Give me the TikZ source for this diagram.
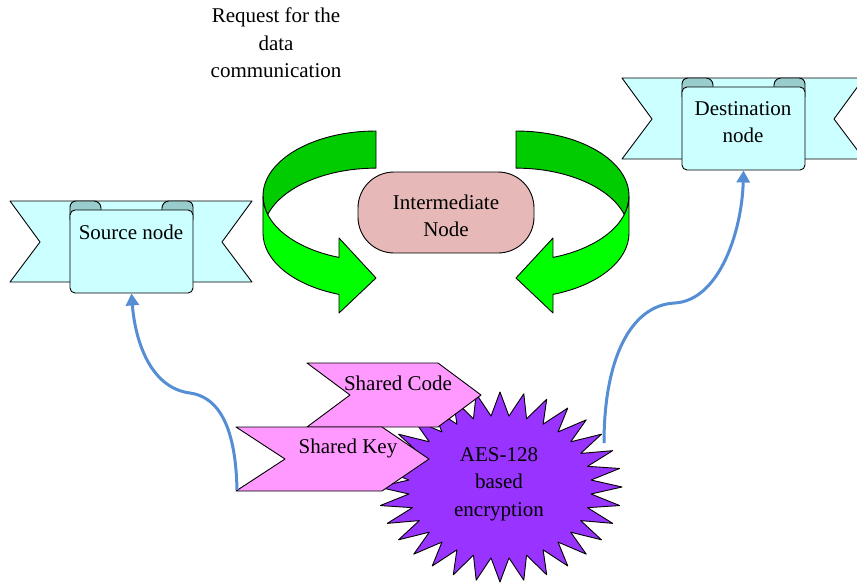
\documentclass[tikz,border=0pt]{standalone}
\usepackage{fontspec}
\setmainfont{Liberation Serif}
\usetikzlibrary{arrows.meta,calc}
\definecolor{ribbonc}{RGB}{204,255,255}
\definecolor{curlc}{RGB}{153,204,204}
\definecolor{gdark}{RGB}{0,204,0}
\definecolor{glight}{RGB}{0,255,0}
\definecolor{interc}{RGB}{230,185,184}
\definecolor{pinkc}{RGB}{255,153,255}
\definecolor{starc}{RGB}{153,51,255}
\definecolor{linkc}{RGB}{85,142,213}
\tikzset{
  outline/.style={draw=black, line width=0.9pt, line join=round},
  txt/.style={font=\fontsize{21}{27.5}\selectfont, align=center, inner sep=0pt, text=black},
  link/.style={draw=linkc, line width=3pt, -{Triangle[width=13pt,length=12pt]}},
  panel/.style={outline, fill=ribbonc, rounded corners=5, minimum width=123, minimum height=83, inner sep=0pt},
}
\newcommand\myribbonback[2]{%
  \begin{scope}[shift={(#1,#2)}]
    \path[outline, fill=ribbonc] (10,201) -- (252,201) -- (222,242) -- (252,282) -- (10,282) -- (40,242) -- cycle;
    \path[outline, fill=curlc] (70,220) -- (70,207) arc[start angle=180,end angle=270,radius=6] -- (94,201) arc[start angle=270,end angle=360,radius=7] -- (101,220) -- cycle;
    \path[outline, fill=curlc] (162,220) -- (162,208) arc[start angle=180,end angle=270,radius=7] -- (187,201) arc[start angle=270,end angle=360,radius=6] -- (193,220) -- cycle;
  \end{scope}}
\newcommand\greenarrow{%
  \path[outline, fill=gdark] (376,131) arc[start angle=-90,end angle=-180,x radius=113,y radius=65]
    arc[start angle=180,end angle=163.4,x radius=113,y radius=65]
    arc[start angle=-163.4,end angle=-90,x radius=113,y radius=65] -- cycle;
  \path[outline, fill=glight] (263,196) arc[start angle=180,end angle=109.1,x radius=113,y radius=65]
    -- (339,238) -- (376,278) -- (339,313) -- (339,294.4)
    arc[start angle=109.1,end angle=180,x radius=113,y radius=65] -- cycle;}
\begin{document}
\begin{tikzpicture}[x=1pt,y=-1pt]
\useasboundingbox (0,0) rectangle (857,584);
\clip (0,0) rectangle (857,584);
% title
\node[txt] (req) at (276,43) {Request for the\\data\\communication};
% source ribbon
\myribbonback{0}{0}
\node[panel] (srcpanel) at (131.5,251.5) {};
\node[txt] (srclabel) at (131,232) {Source node};
% destination ribbon
\myribbonback{612}{-123}
\node[panel] (dstpanel) at (743.5,128.5) {};
\node[txt] (dstlabel) at (743,122) {Destination\\node};
% green arrows
\greenarrow
\begin{scope}[xshift=892pt, xscale=-1]
  \greenarrow
\end{scope}
% intermediate
\node[outline, fill=interc, rounded corners=36, minimum width=176, minimum height=81, inner sep=0pt] (inter) at (446,212.5) {};
\node[txt] (interlabel) at (446,216) {Intermediate\\Node};
% star (behind the chevrons)
\path[outline, fill=starc, shift={(500,487)}] (-90:122 and 95)
  \foreach \i in {0,...,31} { -- ({-84.375+\i*11.25}:91.5 and 71.25) -- ({-78.75+\i*11.25}:122 and 95) } -- cycle;
\node[txt] (aes) at (499,484) {AES-128\\based\\encryption};
\coordinate (starright) at (604,443);
% chevrons
\path[outline, fill=pinkc] (307,363) -- (438,363) -- (481,395) -- (438,427) -- (307,427) -- (350,395) -- cycle;
\node[txt] (code) at (398,383) {Shared Code};
\path[outline, fill=pinkc] (236,427) -- (382,427) -- (429,459) -- (382,491) -- (236,491) -- (285,459) -- cycle;
\node[txt] (key) at (348,448) {Shared Key};
\coordinate (keyfoot) at (237,490);
% links
\draw[link] (keyfoot) .. controls (236,440) and (225,398) .. (190,393) .. controls (150,388) and (135,340) .. (srcpanel.south);
\draw[link] (starright) .. controls (604,360) and (630,305) .. (675,303) .. controls (720,300) and (742,230) .. (dstpanel.south);
\end{tikzpicture}
\end{document}
